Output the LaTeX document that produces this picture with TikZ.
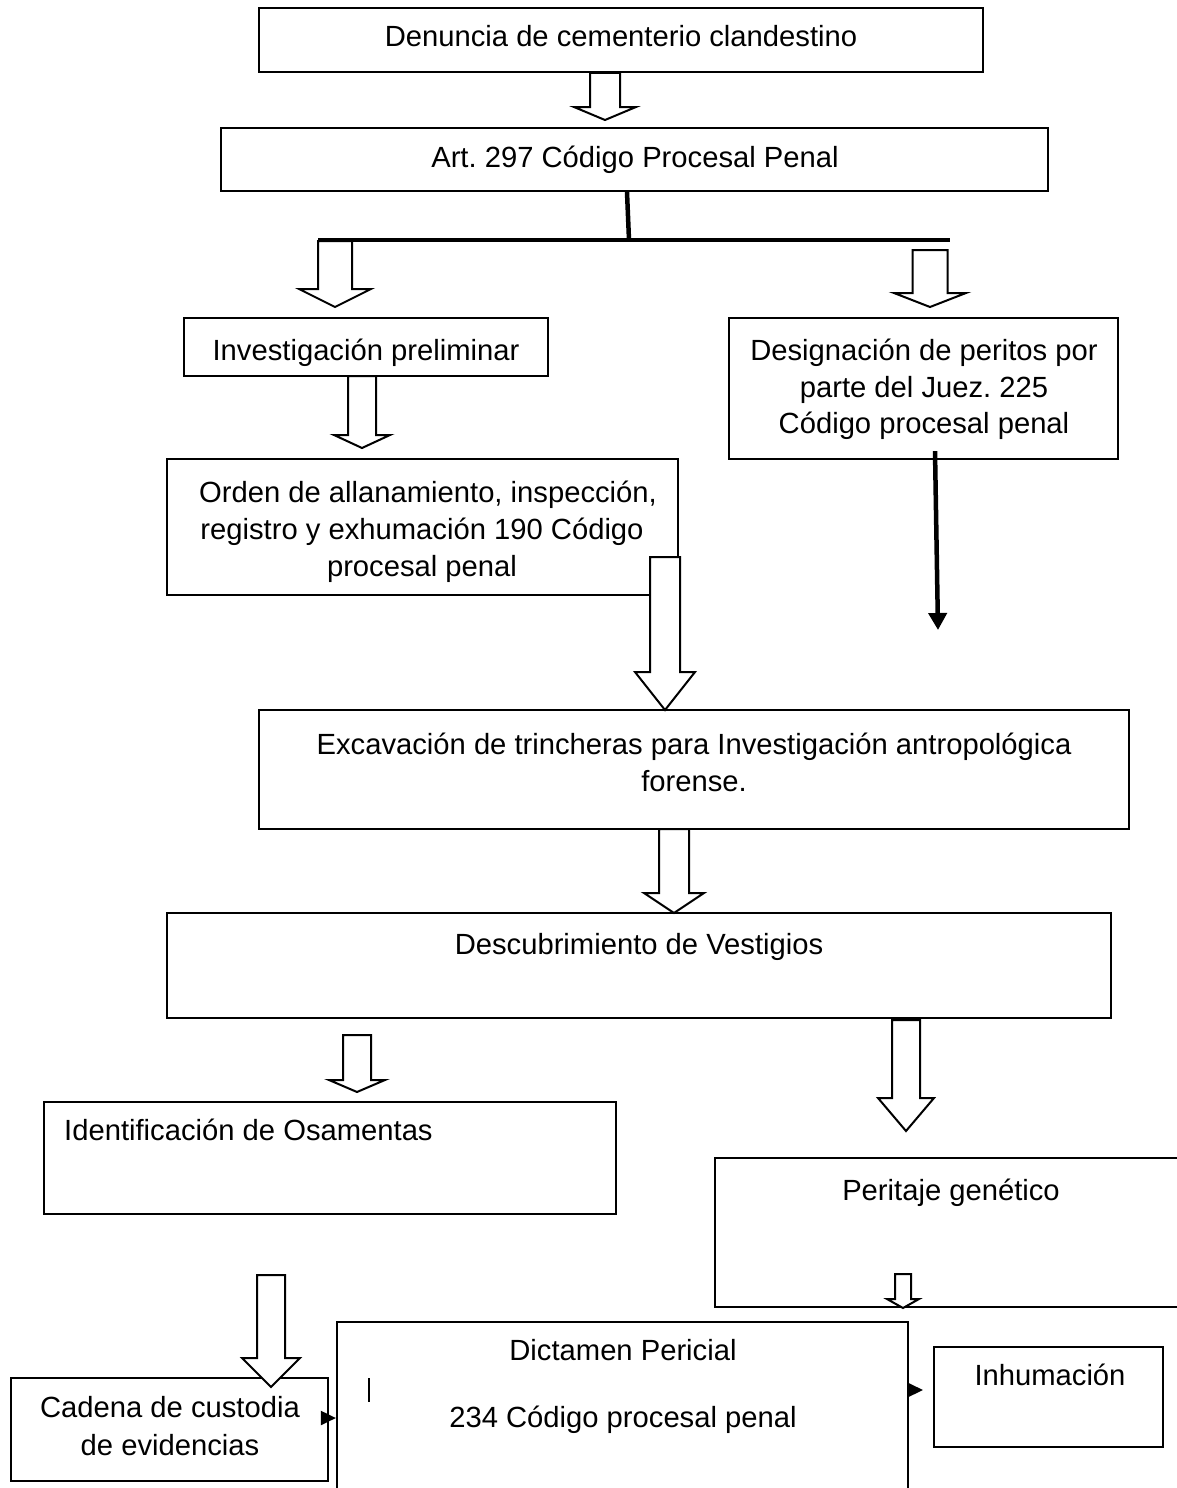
\documentclass[tikz,border=0pt]{standalone}
\usepackage{fontspec}
\setmainfont{Liberation Sans}
\usetikzlibrary{arrows.meta}
\frenchspacing
\tikzset{
  box/.style={draw, line width=2.2pt, inner sep=0pt},
  lbl/.style={anchor=base, inner sep=0pt, font=\fontsize{29.2}{37}\selectfont},
  harrow/.style={draw, fill=white, line width=2pt, line join=miter},
  barline/.style={line width=4.5pt},
  thickarr/.style={line width=4.5pt, -{Triangle[width=18pt,length=17pt]}},
  smallarr/.style={line width=2pt, -{Triangle[width=14pt,length=15pt]}},
}
\newcommand\hollowarrow[6]{\draw[harrow] ({#1-#3},#2) -- ({#1-#3},#4) -- ({#1-#5},#4) -- (#1,#6) -- ({#1+#5},#4) -- ({#1+#3},#4) -- ({#1+#3},#2) -- cycle;}
\begin{document}
\begin{tikzpicture}[x=1pt,y=-1pt]
\useasboundingbox (0,0) rectangle (1177,1488);
\clip (0,0) rectangle (1177,1488);
\fill[white] (0,0) rectangle (1177,1488);

% boxes
\node[box, minimum width=724pt, minimum height=64pt] (n1) at (621,40) {};
\node[box, minimum width=827pt, minimum height=63pt] (n2) at (634.5,159.5) {};
\node[box, minimum width=364pt, minimum height=58pt] (n3) at (366,347) {};
\node[box, minimum width=389pt, minimum height=141pt] (n4) at (923.5,388.5) {};
\node[box, minimum width=511pt, minimum height=136pt] (n5) at (422.5,527) {};
\node[box, minimum width=870pt, minimum height=119pt] (n6) at (694,769.5) {};
\node[box, minimum width=944pt, minimum height=105pt] (n7) at (639,965.5) {};
\node[box, minimum width=572pt, minimum height=112pt] (n8) at (330,1158) {};
\node[box, minimum width=475pt, minimum height=149pt] (n9) at (952.5,1232.5) {};
\node[box, minimum width=571pt, minimum height=178pt] (dic) at (622.5,1411) {};
\node[box, minimum width=317pt, minimum height=103pt] (cad) at (169.5,1429.5) {};
\node[box, minimum width=229pt, minimum height=100pt] (inh) at (1048.5,1397) {};

% texts
\node[lbl] (t1) at (621,47) {Denuncia de cementerio clandestino};
\node[lbl] (t2) at (635,167) {Art. 297 Código Procesal Penal};
\node[lbl] (t3) at (366,360) {Investigación preliminar};
\node[lbl] (t4a) at (924,360) {Designación de peritos por};
\node[lbl] (t4b) at (924,397) {parte del Juez. 225};
\node[lbl] (t4c) at (924,433) {Código procesal penal};
\node[lbl] (t5a) at (428,502) {Orden de allanamiento, inspección,};
\node[lbl] (t5b) at (422,539) {registro y exhumación 190 Código};
\node[lbl] (t5c) at (422,576) {procesal penal};
\node[lbl] (t6a) at (694,754) {Excavación de trincheras para Investigación antropológica};
\node[lbl] (t6b) at (694,791) {forense.};
\node[lbl] (t7) at (639,954) {Descubrimiento de Vestigios};
\node[lbl, anchor=base west] (t8) at (64,1140) {Identificación de Osamentas};
\node[lbl] (t9) at (951,1200) {Peritaje genético};
\node[lbl] (t10a) at (623,1360) {Dictamen Pericial};
\node[lbl] (t10b) at (623,1427) {234 Código procesal penal};
\node[lbl] (t11a) at (170,1417) {Cadena de custodia};
\node[lbl] (t11b) at (170,1455) {de evidencias};
\node[lbl] (t12) at (1050,1385) {Inhumación};

% cursor mark
\draw[line width=1.5pt] (369,1378) -- (369,1402);

% branching lines
\coordinate (j) at (629,240);
\coordinate (hl) at (318,240);
\coordinate (hr) at (950,240);
\draw[barline] ([xshift=-7.5pt]n2.south) -- (j);
\draw[barline] (hl) -- (hr);

% hollow block arrows: x, ytop, shaft half, yhead, head half, ytip
\hollowarrow{605}{73}{15}{107}{31}{120}
\hollowarrow{335}{241}{17}{289}{36}{307}
\hollowarrow{930}{250}{17.5}{293}{36}{307}
\hollowarrow{362}{376}{14}{435}{28}{448}
\hollowarrow{665}{557}{15}{672}{30}{710}
\hollowarrow{674}{829}{15}{893}{30}{913}
\hollowarrow{357}{1035}{14}{1080}{28}{1092}
\hollowarrow{906}{1020}{14}{1098}{28}{1131}
\hollowarrow{903}{1274}{8}{1299}{16}{1308}
\hollowarrow{271}{1275}{14}{1358}{29}{1387}

% thick arrow from Designacion
\coordinate (d1) at (938,630);
\draw[thickarr] ([xshift=11.5pt,yshift=9pt]n4.south) -- (d1);

% small arrows
\draw[smallarr] ([yshift=11.5pt]cad.east) -- ([yshift=11.5pt]cad.east -| dic.west);
\coordinate (ih) at (923,1390);
\draw[smallarr] (dic.east |- ih) -- (ih);
\end{tikzpicture}
\end{document}
